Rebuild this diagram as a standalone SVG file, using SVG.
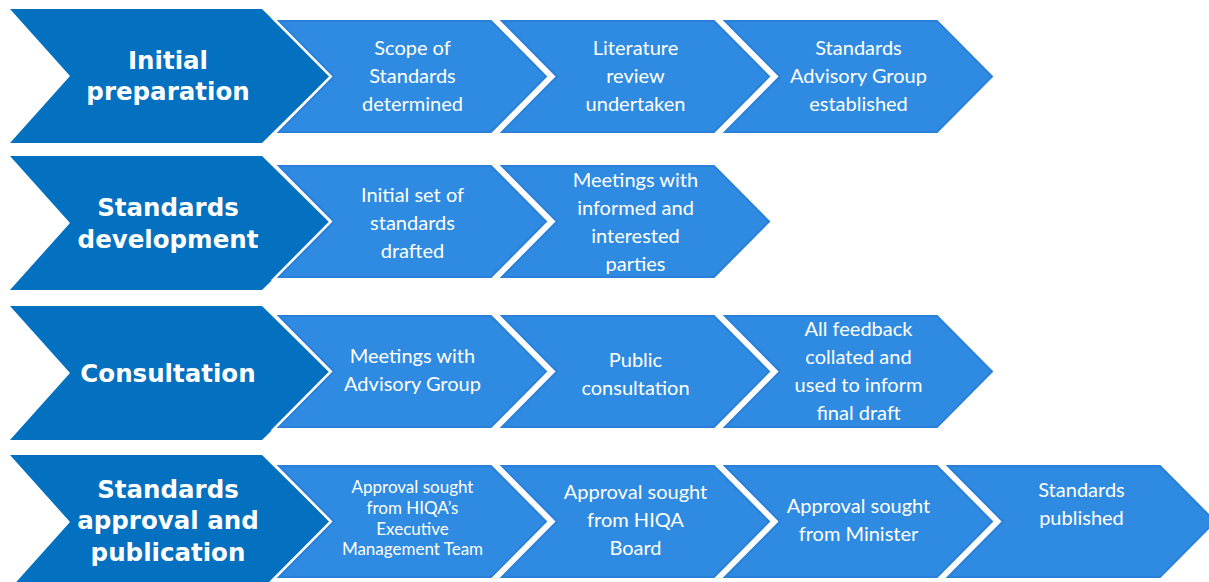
<svg xmlns="http://www.w3.org/2000/svg" width="1209" height="582" viewBox="0 0 1209 582">
<style>
.dark{fill:#0370C0;}
.halo{fill:none;stroke:#FFFFFF;stroke-width:7;stroke-linejoin:miter;}
.light{fill:#2E8BE1;stroke:#2A80D8;stroke-width:2;stroke-linejoin:miter;}
.h{font-family:"DejaVu Sans","Liberation Sans",sans-serif;font-weight:bold;font-size:24.5px;fill:#FFFFFF;text-anchor:middle;}
.t{font-family:Lato,"Liberation Sans",sans-serif;font-size:20px;fill:#FFFFFF;text-anchor:middle;}
.s{font-family:Lato,"Liberation Sans",sans-serif;font-size:17px;fill:#FFFFFF;text-anchor:middle;}
</style>
<defs>
<polygon id="dk" points="0,-67 252,-67 320,0 252,67 0,67 60,0"/>
<polygon id="lt" points="0,-55.5 212,-55.5 267,0 212,55.5 0,55.5 55,0"/>
</defs>
<rect width="1209" height="582" fill="#FFFFFF"/>

<!-- Row 1 -->
<g id="initial-preparation">
<use href="#dk" class="dark" x="10" y="76"/>
<text class="h"><tspan x="168" y="69">Initial</tspan><tspan x="168" y="100">preparation</tspan></text>
</g>
<g id="scope-determined">
<use href="#lt" class="halo" x="279" y="76.5"/><use href="#lt" class="light" x="279" y="76.5"/>
<text class="t"><tspan x="412.5" y="55">Scope of</tspan><tspan x="412.5" y="83">Standards</tspan><tspan x="412.5" y="111">determined</tspan></text>
</g>
<g id="literature-review">
<use href="#lt" class="halo" x="502" y="76.5"/><use href="#lt" class="light" x="502" y="76.5"/>
<text class="t"><tspan x="635.5" y="55">Literature</tspan><tspan x="635.5" y="83">review</tspan><tspan x="635.5" y="111">undertaken</tspan></text>
</g>
<g id="advisory-group-established">
<use href="#lt" class="halo" x="725" y="76.5"/><use href="#lt" class="light" x="725" y="76.5"/>
<text class="t"><tspan x="858.5" y="55">Standards</tspan><tspan x="858.5" y="83">Advisory Group</tspan><tspan x="858.5" y="111">established</tspan></text>
</g>

<!-- Row 2 -->
<g id="standards-development">
<use href="#dk" class="dark" x="10" y="223"/>
<text class="h"><tspan x="168" y="216">Standards</tspan><tspan x="168" y="248">development</tspan></text>
</g>
<g id="initial-set-drafted">
<use href="#lt" class="halo" x="279" y="221.5"/><use href="#lt" class="light" x="279" y="221.5"/>
<text class="t"><tspan x="412.5" y="202">Initial set of</tspan><tspan x="412.5" y="230">standards</tspan><tspan x="412.5" y="258">drafted</tspan></text>
</g>
<g id="meetings-interested-parties">
<use href="#lt" class="halo" x="502" y="221.5"/><use href="#lt" class="light" x="502" y="221.5"/>
<text class="t"><tspan x="635.5" y="187">Meetings with</tspan><tspan x="635.5" y="215">informed and</tspan><tspan x="635.5" y="243">interested</tspan><tspan x="635.5" y="271">parties</tspan></text>
</g>

<!-- Row 3 -->
<g id="consultation">
<use href="#dk" class="dark" x="10" y="373"/>
<text class="h"><tspan x="168" y="382">Consultation</tspan></text>
</g>
<g id="meetings-advisory-group">
<use href="#lt" class="halo" x="279" y="371.5"/><use href="#lt" class="light" x="279" y="371.5"/>
<text class="t"><tspan x="412.5" y="363">Meetings with</tspan><tspan x="412.5" y="391">Advisory Group</tspan></text>
</g>
<g id="public-consultation">
<use href="#lt" class="halo" x="502" y="371.5"/><use href="#lt" class="light" x="502" y="371.5"/>
<text class="t"><tspan x="635.5" y="367">Public</tspan><tspan x="635.5" y="395">consultation</tspan></text>
</g>
<g id="feedback-collated">
<use href="#lt" class="halo" x="725" y="371.5"/><use href="#lt" class="light" x="725" y="371.5"/>
<text class="t"><tspan x="858.5" y="336">All feedback</tspan><tspan x="858.5" y="364">collated and</tspan><tspan x="858.5" y="392">used to inform</tspan><tspan x="858.5" y="420">final draft</tspan></text>
</g>

<!-- Row 4 -->
<g id="approval-publication">
<use href="#dk" class="dark" x="10" y="522"/>
<text class="h"><tspan x="168" y="498">Standards</tspan><tspan x="168" y="529">approval and</tspan><tspan x="168" y="561">publication</tspan></text>
</g>
<g id="approval-emt">
<use href="#lt" class="halo" x="279" y="521.5"/><use href="#lt" class="light" x="279" y="521.5"/>
<text class="s"><tspan x="412.5" y="493">Approval sought</tspan><tspan x="412.5" y="514">from HIQA’s</tspan><tspan x="412.5" y="535">Executive</tspan><tspan x="412.5" y="555">Management Team</tspan></text>
</g>
<g id="approval-board">
<use href="#lt" class="halo" x="502" y="521.5"/><use href="#lt" class="light" x="502" y="521.5"/>
<text class="t"><tspan x="635.5" y="499">Approval sought</tspan><tspan x="635.5" y="527">from HIQA</tspan><tspan x="635.5" y="555">Board</tspan></text>
</g>
<g id="approval-minister">
<use href="#lt" class="halo" x="725" y="521.5"/><use href="#lt" class="light" x="725" y="521.5"/>
<text class="t"><tspan x="858.5" y="513">Approval sought</tspan><tspan x="858.5" y="541">from Minister</tspan></text>
</g>
<g id="standards-published">
<use href="#lt" class="halo" x="948" y="521.5"/><use href="#lt" class="light" x="948" y="521.5"/>
<text class="t"><tspan x="1081.5" y="497">Standards</tspan><tspan x="1081.5" y="525">published</tspan></text>
</g>
</svg>
